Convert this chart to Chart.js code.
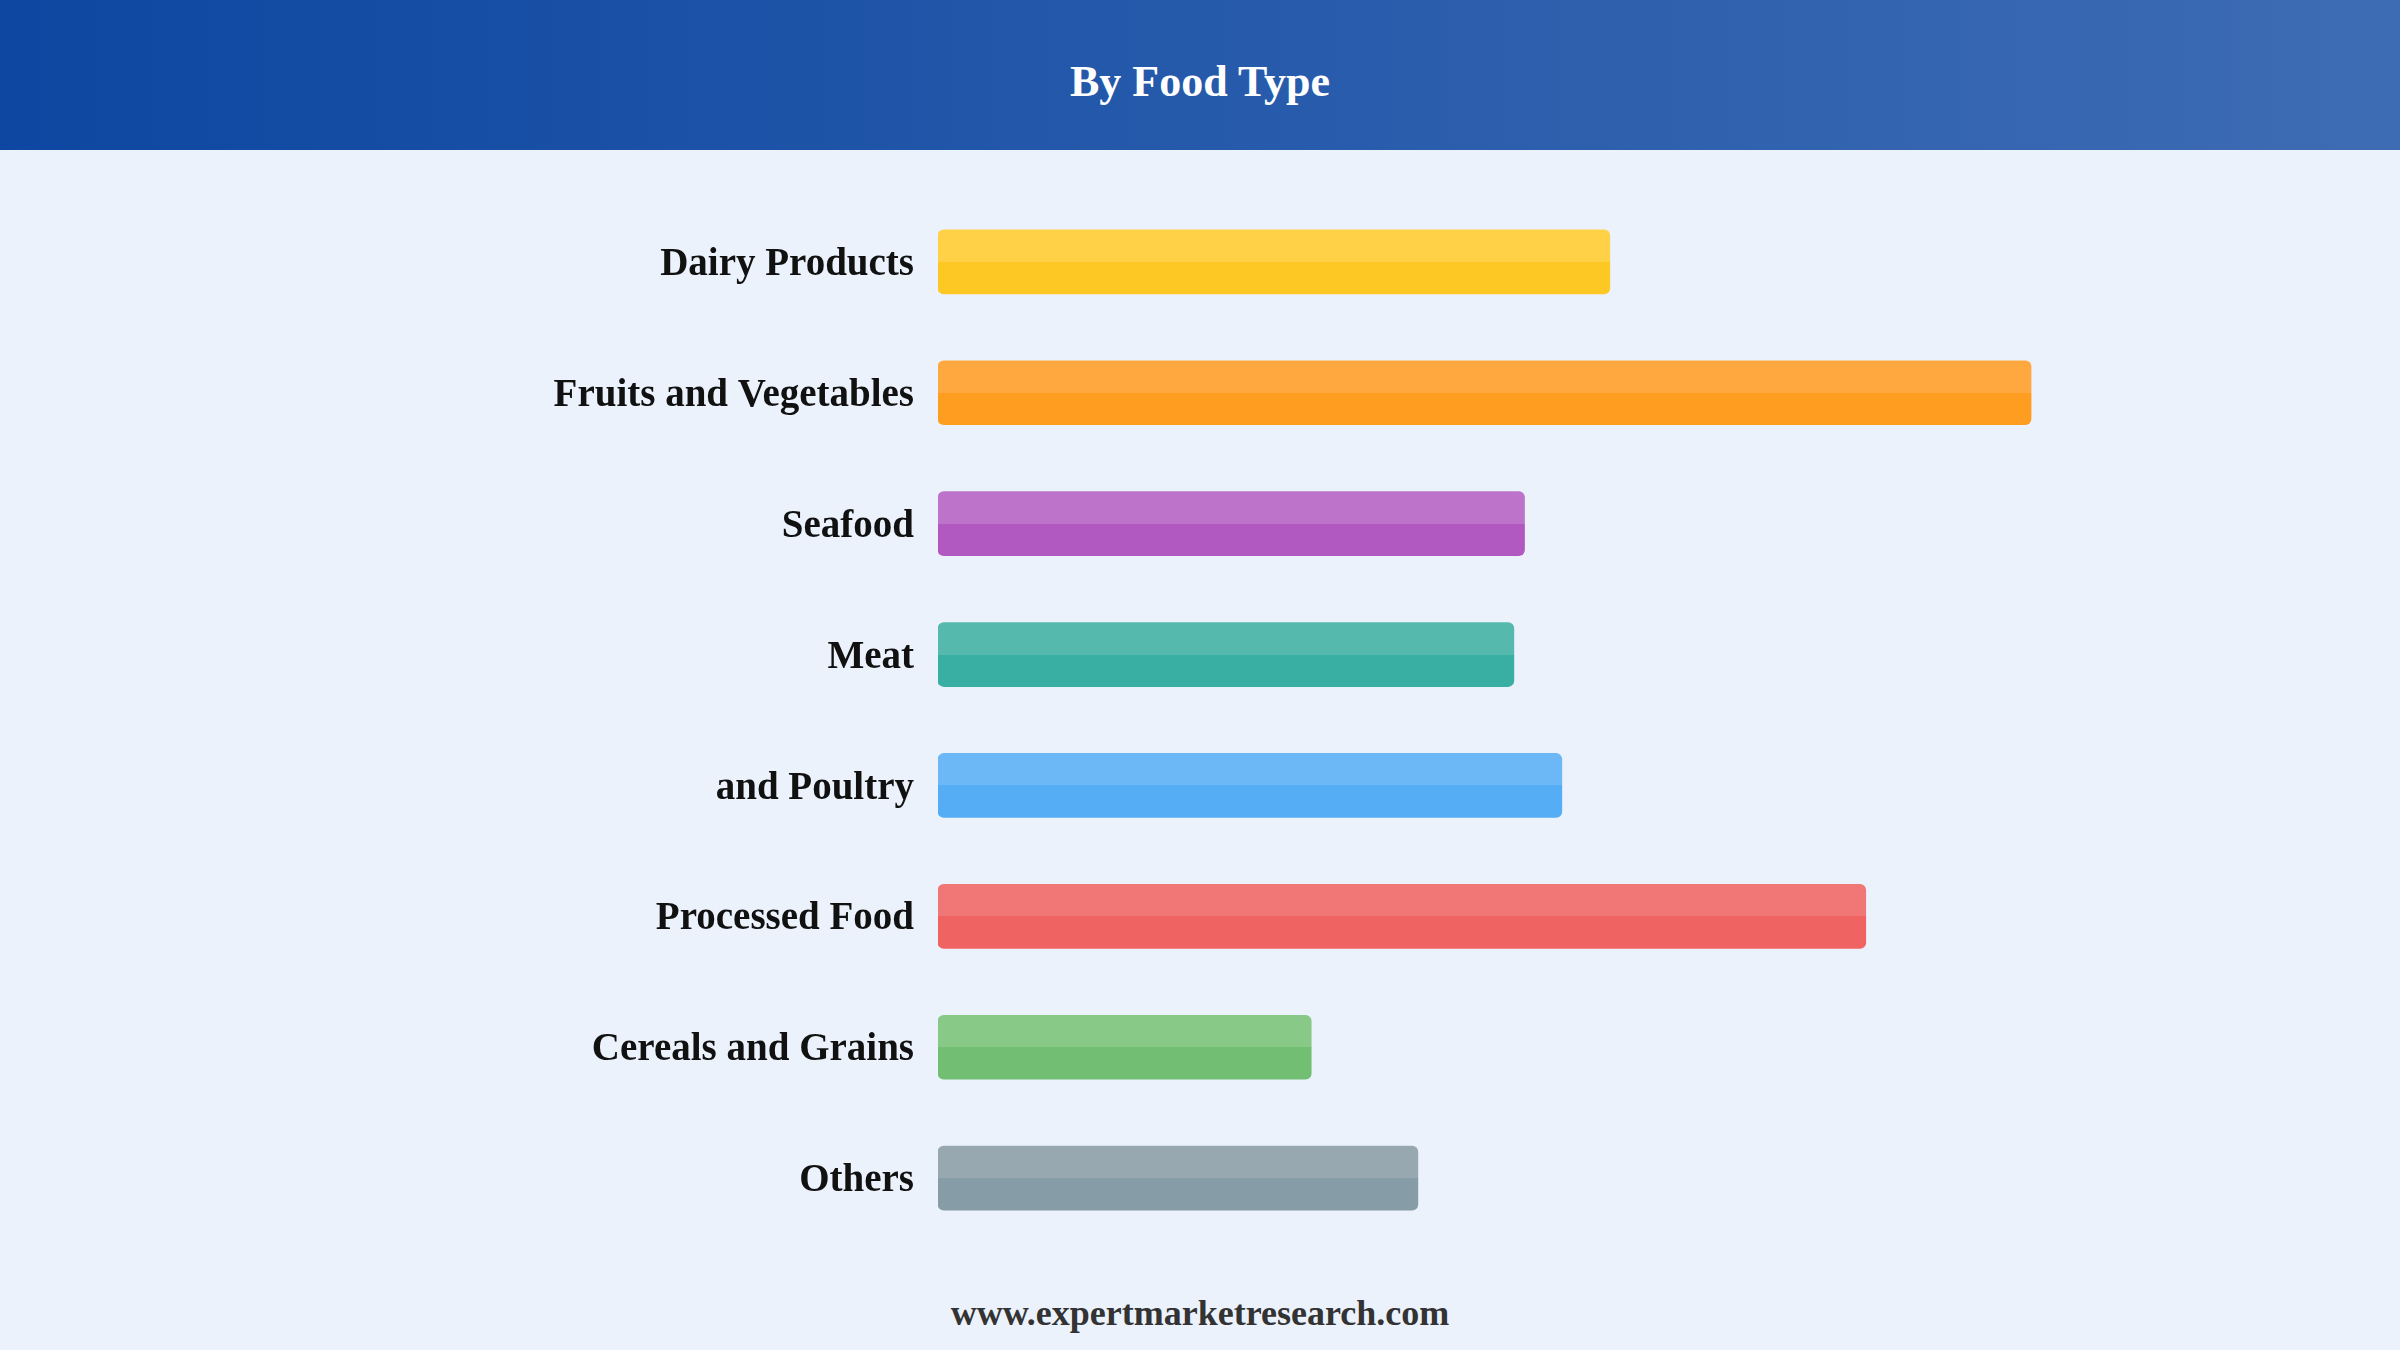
<!DOCTYPE html>
<html lang="en">
<head>
    <meta charset="UTF-8">
    <title>By Food Type</title>
    <style>
        html, body { margin: 0; padding: 0; }
        body { width: 2400px; height: 1350px; background: #ebf2fc; font-family: "Liberation Serif", "Times New Roman", serif; position: relative; overflow: hidden; }
        .header { height: 150px; background: linear-gradient(to right, #0d47a1, #3e6cb4); color: #fff; display: flex; align-items: center; justify-content: center; }
        .header h1 { margin: 0; font-size: 44px; font-weight: bold; padding-top: 12px; }
        .chart-box { position: absolute; left: 0; top: 149px; width: 2400px; height: 1142px; }
        .footer { position: absolute; left: 0; width: 2400px; top: 1292px; text-align: center; font-size: 36px; font-weight: bold; color: #333; }
    </style>
    <script src="https://cdn.jsdelivr.net/npm/chart.js"></script>
</head>
<body>
    <div class="header"><h1>By Food Type</h1></div>
    <div class="chart-box"><canvas id="foodChart"></canvas></div>
    <div class="footer">www.expertmarketresearch.com</div>

    <script>
        // данные
        const categories = ['Dairy Products', 'Fruits and Vegetables', 'Seafood', 'Meat', 'and Poultry', 'Processed Food', 'Cereals and Grains', 'Others'];
        const shares = [12.6, 20.5, 11.0, 10.8, 11.7, 17.4, 7.0, 9.0];
        const baseColors = ['#fec824', '#ff9d20', '#b259c1', '#39aea3', '#54adf5', '#ef6462', '#72bf74', '#869ca6'];
        const lightColors = ['#fed146', '#ffa83f', '#bd73c9', '#56b9ae', '#6cb8f7', '#f07775', '#88c987', '#97a8b1'];

        const BAR = 64;

        // верхняя половина полосы светлее
        function barFill(context) {
            const chart = context.chart;
            const i = context.dataIndex;
            const yScale = chart.scales && chart.scales.y;
            if (!yScale || !chart.chartArea) return baseColors[i];
            const yc = yScale.getPixelForValue(i);
            if (!isFinite(yc)) return baseColors[i];
            const g = chart.ctx.createLinearGradient(0, yc - BAR / 2, 0, yc + BAR / 2);
            g.addColorStop(0, lightColors[i]);
            g.addColorStop(0.5, lightColors[i]);
            g.addColorStop(0.5, baseColors[i]);
            g.addColorStop(1, baseColors[i]);
            return g;
        }

        const ctx = document.getElementById('foodChart').getContext('2d');
        new Chart(ctx, {
            type: 'bar',
            data: {
                labels: categories,
                datasets: [{
                    data: shares,
                    backgroundColor: barFill,
                    borderWidth: 0,
                    borderRadius: 6,
                    borderSkipped: false,
                    barThickness: BAR
                }]
            },
            options: {
                indexAxis: 'y',
                responsive: true,
                maintainAspectRatio: false,
                animation: false,
                layout: { padding: { top: 0, bottom: 0, left: 0, right: 129 } },
                plugins: { legend: { display: false }, tooltip: { enabled: false } },
                scales: {
                    x: { display: false, min: 0, max: 25 },
                    y: {
                        grid: { display: false, drawTicks: false },
                        border: { display: false },
                        ticks: {
                            padding: 24,
                            labelOffset: 3,
                            color: '#111',
                            font: { family: '"Liberation Serif", "Times New Roman", serif', size: 39, weight: 'bold' }
                        },
                        afterFit: function (scale) { scale.width = 938; }
                    }
                }
            }
        });
    </script>
</body>
</html>
